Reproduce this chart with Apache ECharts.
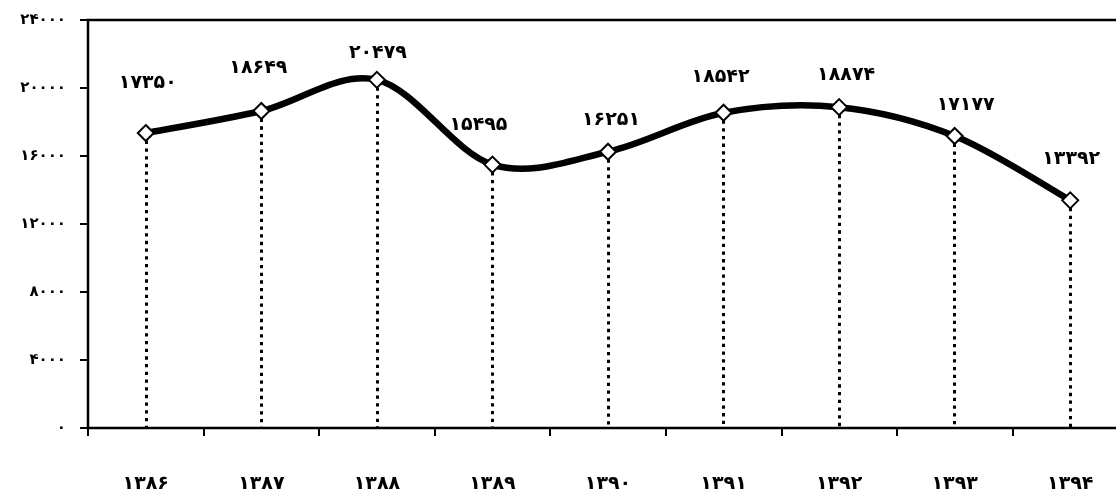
<!DOCTYPE html>
<html>
<head>
<meta charset="utf-8">
<script src="https://cdn.jsdelivr.net/npm/echarts@6/dist/echarts.min.js"></script>
<style>
  html, body { margin: 0; padding: 0; background: #fff; }
  #chart { width: 1116px; height: 491px; }
</style>
</head>
<body>
<div id="chart"></div>
<script>
// Years (Solar Hijri) and yearly totals
const years = ['1386', '1387', '1388', '1389', '1390', '1391', '1392', '1393', '1394'];
const totals = [17350, 18649, 20479, 15495, 16251, 18542, 18874, 17177, 13392];

// Value axis range
const yMin = 0;
const yMax = 24000;
const yStep = 4000;

// Per-point nudges for the value labels [dx, dy]
const labelNudge = [[2, -33], [-3, -26], [1, -10], [-14, -23], [3, -15], [-3, -19], [7, -15], [11, -14], [1, -24]];

const faDigits = '۰۱۲۳۴۵۶۷۸۹';
const toFa = v => String(v).replace(/\d/g, d => faDigits[d]);

const FONT = "'DejaVu Sans', sans-serif";

const chart = echarts.init(document.getElementById('chart'), null, { renderer: 'canvas' });

const seriesData = totals.map((v, i) => ({
  value: v,
  label: { offset: labelNudge[i] }
}));

const dropLines = totals.map((v, i) => [
  { coord: [i, v] },
  { coord: [i, yMin] }
]);

// Smoothed curve: each item draws the cubic segment to the next point,
// with Catmull-Rom style control points taken from its neighbours.
function renderSegment(params, api) {
  const i = params.dataIndex;
  const n = totals.length;
  if (i >= n - 1) return null;
  const pt = k => {
    const kk = Math.max(0, Math.min(n - 1, k));
    return api.coord([kk, totals[kk]]);
  };
  const p0 = pt(i - 1), p1 = pt(i), p2 = pt(i + 1), p3 = pt(i + 2);
  const t = 1 / 6;
  return {
    type: 'bezierCurve',
    shape: {
      x1: p1[0], y1: p1[1],
      x2: p2[0], y2: p2[1],
      cpx1: p1[0] + (p2[0] - p0[0]) * t,
      cpy1: p1[1] + (p2[1] - p0[1]) * t,
      cpx2: p2[0] - (p3[0] - p1[0]) * t,
      cpy2: p2[1] - (p3[1] - p1[1]) * t
    },
    style: { stroke: '#000', lineWidth: 6.5, fill: null, lineCap: 'round' },
    silent: true
  };
}

chart.setOption({
  animation: false,
  backgroundColor: '#ffffff',
  grid: {
    left: 88,
    top: 20,
    right: -12,
    bottom: 63,
    containLabel: false,
    outerBoundsMode: 'none',
    show: true,
    borderColor: '#000',
    borderWidth: 2.5,
    backgroundColor: 'transparent'
  },
  xAxis: {
    type: 'category',
    data: years,
    boundaryGap: true,
    axisLine: { show: true, lineStyle: { color: '#000', width: 2 } },
    axisTick: { show: true, inside: false, length: 8, alignWithLabel: false, lineStyle: { color: '#000', width: 2 } },
    axisLabel: {
      margin: 47,
      color: '#000',
      fontFamily: FONT,
      fontWeight: 'bold',
      fontSize: 19,
      formatter: v => toFa(v)
    },
    splitLine: { show: false }
  },
  yAxis: {
    type: 'value',
    min: yMin,
    max: yMax,
    interval: yStep,
    axisLine: { show: true, lineStyle: { color: '#000', width: 2 } },
    axisTick: { show: true, inside: false, length: 8, lineStyle: { color: '#000', width: 2 } },
    axisLabel: {
      margin: 22,
      color: '#000',
      fontFamily: FONT,
      fontWeight: 'bold',
      fontSize: 15,
      formatter: v => toFa(v)
    },
    splitLine: { show: false }
  },
  series: [{
    type: 'custom',
    data: totals.map((v, i) => [i, v]),
    encode: { x: 0, y: 1 },
    renderItem: renderSegment,
    clip: false,
    silent: true,
    z: 3
  }, {
    type: 'line',
    data: seriesData,
    symbol: 'diamond',
    symbolSize: 16,
    showAllSymbol: true,
    z: 5,
    lineStyle: { opacity: 0, width: 0 },
    itemStyle: { color: '#fff', borderColor: '#000', borderWidth: 2 },
    label: {
      show: true,
      position: 'top',
      distance: 0,
      color: '#000',
      fontFamily: FONT,
      fontWeight: 'bold',
      fontSize: 19,
      lineHeight: 16,
      formatter: p => toFa(p.value)
    },
    markLine: {
      silent: true,
      symbol: ['none', 'none'],
      label: { show: false },
      z: 1,
      lineStyle: { color: '#000', width: 3, type: [3.3, 4.4], cap: 'butt', opacity: 1 },
      emphasis: { disabled: true },
      data: dropLines
    }
  }]
});
</script>
</body>
</html>
